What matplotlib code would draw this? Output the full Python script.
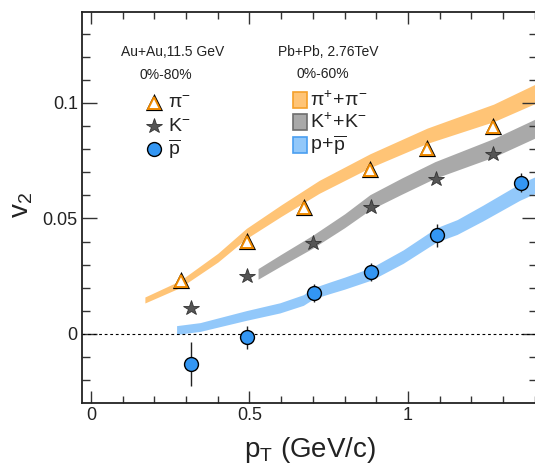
import numpy as np
import matplotlib
matplotlib.use('Agg')
from matplotlib import pyplot as plt
from matplotlib.ticker import MultipleLocator, FuncFormatter
from matplotlib.patches import Rectangle

plt.rcParams['font.family'] = ['Liberation Sans', 'DejaVu Sans']
plt.rcParams['mathtext.fontset'] = 'custom'
plt.rcParams['mathtext.rm'] = 'Liberation Sans'
plt.rcParams['mathtext.it'] = 'Liberation Sans:italic'
plt.rcParams['mathtext.bf'] = 'Liberation Sans:bold'

# STAR Au+Au 11.5 GeV, 0-80%
pi_x = [0.284, 0.493, 0.672, 0.880, 1.06, 1.268]
pi_y = [0.0228, 0.0397, 0.0547, 0.0711, 0.080, 0.0897]
k_x = [0.315, 0.493, 0.70, 0.884, 1.088, 1.268]
k_y = [0.0112, 0.025, 0.0392, 0.0548, 0.0672, 0.078]
pbar_x = [0.315, 0.493, 0.703, 0.884, 1.09, 1.355]
pbar_y = [-0.0129, -0.0015, 0.0178, 0.0268, 0.0427, 0.0655]
pbar_err = [0.0095, 0.005, 0.004, 0.004, 0.005, 0.004]

# ALICE Pb+Pb 2.76 TeV, 0-60% (bands: centre and half width)
pi_band_x = [0.17, 0.28, 0.40, 0.49, 0.60, 0.72, 0.88, 1.06, 1.27, 1.41]
pi_band_y = [0.0147, 0.0215, 0.033, 0.0435, 0.0534, 0.0637, 0.075, 0.0858, 0.0957, 0.1045]
pi_band_w = [0.0013, 0.0015, 0.0019, 0.0022, 0.0025, 0.0028, 0.003, 0.0033, 0.0038, 0.0042]

k_band_x = [0.527, 0.60, 0.70, 0.80, 0.88, 0.98, 1.085, 1.27, 1.41]
k_band_y = [0.026, 0.032, 0.040, 0.049, 0.057, 0.064, 0.071, 0.0806, 0.0895]
k_band_w = [0.0023, 0.0025, 0.0028, 0.003, 0.0033, 0.0035, 0.0036, 0.004, 0.0041]

p_band_x = [0.27, 0.344, 0.49, 0.596, 0.67, 0.703, 0.754, 0.80, 0.884, 0.985, 1.09, 1.155, 1.237, 1.353, 1.41]
p_band_y = [0.0017, 0.003, 0.008, 0.0113, 0.0147, 0.0177, 0.020, 0.022, 0.026, 0.0335, 0.0429, 0.0463, 0.0524, 0.0615, 0.065]
p_band_w = [0.0019, 0.0019, 0.0021, 0.0022, 0.0023, 0.0024, 0.0025, 0.0026, 0.0027, 0.0029, 0.0031, 0.0032, 0.0034, 0.0036, 0.0036]

orange = '#ffc476'
gray = '#a9a9a9'
blue = '#92c8fa'

fig = plt.figure(figsize=(5.35, 4.68), dpi=100)
ax = fig.add_axes([82 / 535, 65 / 468, 455 / 535, 391 / 468])

for bx, by, bw, col in [(pi_band_x, pi_band_y, pi_band_w, orange),
                        (k_band_x, k_band_y, k_band_w, gray),
                        (p_band_x, p_band_y, p_band_w, blue)]:
    bx = np.array(bx)
    by = np.array(by)
    bw = np.array(bw)
    ax.fill_between(bx, by - bw, by + bw, color=col, lw=0, zorder=1)

ax.axhline(0, color='black', lw=0.8, ls=(0, (2.5, 2.5)), zorder=2)

# pi- : orange open triangles with thin black rim
ax.plot(pi_x, pi_y, ls='none', marker='^', ms=9, mfc='white', mec='black', mew=2.3, zorder=4)
ax.plot(pi_x, pi_y, ls='none', marker='^', ms=9, mfc='white', mec='#f08a00', mew=1.4, zorder=5)
ax.plot(k_x, k_y, ls='none', marker='*', ms=11.5, mfc='#555555', mec='#333333', mew=0.6, zorder=4)
ax.errorbar(pbar_x, pbar_y, yerr=pbar_err, fmt='o', ms=10, mfc='#3396f3', mec='black', mew=1.0,
            ecolor='#222222', elinewidth=1.0, capsize=0, zorder=4)

ax.set_xlim(-0.0284, 1.407)
ax.set_ylim(-0.0299, 0.1394)

ax.xaxis.set_major_locator(MultipleLocator(0.5))
ax.xaxis.set_minor_locator(MultipleLocator(0.1))
ax.yaxis.set_major_locator(MultipleLocator(0.05))
ax.yaxis.set_minor_locator(MultipleLocator(0.01))
fmt = FuncFormatter(lambda v, p: '%g' % round(v, 3))
ax.xaxis.set_major_formatter(fmt)
ax.yaxis.set_major_formatter(fmt)

ax.tick_params(which='both', direction='in', top=True, right=True, width=1.0, color='#333333',
               labelsize=13, labelcolor='#222222', pad=3)
ax.tick_params(axis='x', which='major', length=8.4)
ax.tick_params(axis='x', which='minor', length=4.8)
ax.tick_params(axis='y', which='major', length=10.8)
ax.tick_params(axis='y', which='minor', length=5.5)
for s in ax.spines.values():
    s.set_linewidth(1.3)
    s.set_color('#222222')

fig.text(310 / 535, 1 - 457 / 468, r'$\mathrm{p_{T}}$ (GeV/c)', fontsize=20, ha='center',
         va='baseline', color='#222222')
fig.text(22 / 535, 1 - 205 / 468, r'$\mathrm{v_{2}}$', fontsize=20, rotation=90, ha='center',
         va='center', color='#222222')

# headers
ax.text(0.200, 0.898, 'Au+Au,11.5 GeV', transform=ax.transAxes, fontsize=10, ha='center', va='center', color='#222222')
ax.text(0.185, 0.838, '0%-80%', transform=ax.transAxes, fontsize=10, ha='center', va='center', color='#222222')
ax.text(0.541, 0.898, 'Pb+Pb, 2.76TeV', transform=ax.transAxes, fontsize=10, ha='center', va='center', color='#222222')
ax.text(0.530, 0.841, '0%-60%', transform=ax.transAxes, fontsize=10, ha='center', va='center', color='#222222')

# left legend (markers)
lx = 0.158
ax.plot([lx], [0.767], transform=ax.transAxes, marker='^', ms=9, mfc='white', mec='black', mew=2.3, clip_on=False)
ax.plot([lx], [0.767], transform=ax.transAxes, marker='^', ms=9, mfc='white', mec='#f08a00', mew=1.4, clip_on=False)
ax.plot([lx], [0.708], transform=ax.transAxes, marker='*', ms=11.5, mfc='#555555', mec='#333333', mew=0.6, clip_on=False)
ax.plot([lx], [0.650], transform=ax.transAxes, marker='o', ms=10, mfc='#3396f3', mec='black', mew=1.0, clip_on=False)
left_labels = [r'$\mathrm{\pi^{-}}$', r'$\mathrm{K^{-}}$', r'$\mathrm{\overline{p}}$']
for lab, yy in zip(left_labels, [0.767, 0.708, 0.650]):
    ax.text(0.188, yy, lab, transform=ax.transAxes, fontsize=14, ha='left', va='center', color='#222222')

# right legend (bands)
box_cols = [(orange, '#f5a02a'), (gray, '#6e6e6e'), (blue, '#4a9ef0')]
right_labels = [r'$\mathrm{\pi^{+}\!+\!\pi^{-}}$', r'$\mathrm{K^{+}\!+\!K^{-}}$', r'$\mathrm{p\!+\!\overline{p}}$']
for (fc, ec), lab, yb in zip(box_cols, right_labels, [0.7545, 0.697, 0.639]):
    ax.add_patch(Rectangle((0.4637, yb), 0.0308, 0.041, transform=ax.transAxes, facecolor=fc,
                           edgecolor=ec, lw=1.2, clip_on=False))
    ax.text(0.501, yb + 0.0205, lab, transform=ax.transAxes, fontsize=14, ha='left', va='center', color='#222222')

plt.savefig('out.png', dpi=100)
